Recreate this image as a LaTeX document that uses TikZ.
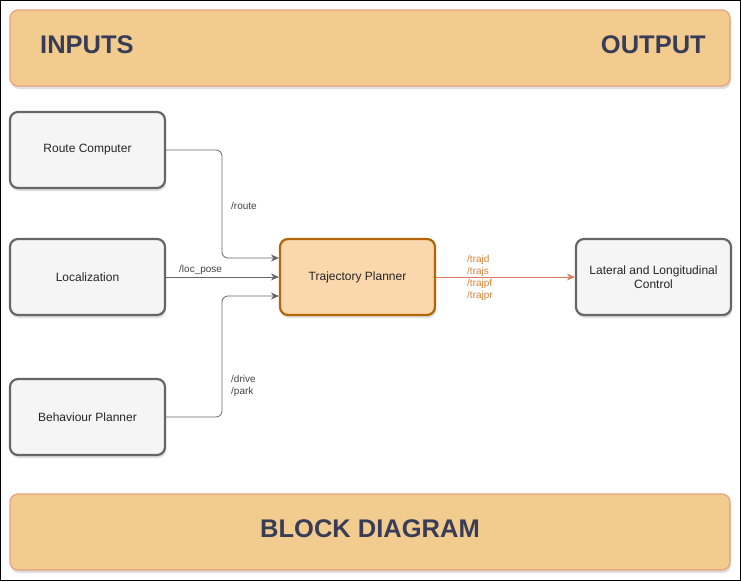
\documentclass[tikz,border=0pt]{standalone}
\usepackage{fontspec}
\setmainfont{Liberation Sans}
\usetikzlibrary{shadows,arrows.meta}
\definecolor{bannerfill}{HTML}{F2CC8F}
\definecolor{bannerdraw}{HTML}{E9A07E}
\definecolor{bannertext}{HTML}{393C56}
\definecolor{boxfill}{HTML}{F5F5F5}
\definecolor{boxdraw}{HTML}{666666}
\definecolor{tpfill}{HTML}{FAD7AC}
\definecolor{tpdraw}{HTML}{B46504}
\definecolor{outedge}{HTML}{E07A5F}
\definecolor{outlabel}{HTML}{D9823B}
\definecolor{edgecol}{HTML}{666666}
\definecolor{labelcol}{HTML}{444444}
\begin{document}
\begin{tikzpicture}[x=1pt,y=-1pt,
  banner/.style={draw=bannerdraw,line width=1.2pt,fill=bannerfill,rounded corners=8pt,
    drop shadow={shadow xshift=1pt,shadow yshift=-3pt,opacity=0.25},
    minimum width=720pt,minimum height=76pt,inner sep=0pt},
  bannertxt/.style={font=\bfseries\fontsize{25.5}{28}\selectfont,text=bannertext,inner sep=0pt},
  blockbox/.style={draw=boxdraw,line width=2.2pt,fill=boxfill,rounded corners=8pt,
    drop shadow={shadow xshift=1pt,shadow yshift=-3pt,opacity=0.25},
    minimum width=155pt,minimum height=76pt,inner sep=2pt,align=center,
    font=\fontsize{12}{14}\selectfont,text=black!85},
  tpbox/.style={blockbox,draw=tpdraw,fill=tpfill},
  conn/.style={draw=edgecol,line width=0.8pt,rounded corners=6pt,-{Stealth[length=8pt,width=7pt]}},
  elabel/.style={font=\fontsize{10}{12}\selectfont,text=labelcol,inner sep=0pt,anchor=west,align=left},
  olabel/.style={font=\fontsize{10}{12}\selectfont,text=outlabel,inner sep=0pt,anchor=west,align=left}
]
\useasboundingbox (0,0) rectangle (741,581);
\fill[white] (0,0) rectangle (741,581);
\draw[black,line width=1pt] (0.5,0.5) rectangle (740.5,580.5);

\node[banner] (top) at (370,48) {};
\node[bannertxt,anchor=west] (inputs) at (40,45) {INPUTS};
\node[bannertxt,anchor=east] (output) at (706,45) {OUTPUT};

\node[banner] (bottom) at (370,532) {};
\node[bannertxt] (bd) at (370,529) {BLOCK DIAGRAM};

\node[blockbox] (rc) at (87.5,150) {Route Computer};
\node[blockbox] (loc) at (87.5,277) {Localization};
\node[blockbox] (bp) at (87.5,417) {Behaviour Planner};
\node[tpbox] (tp) at (357.5,277) {Trajectory Planner};
\node[blockbox] (llc) at (653.5,277) {Lateral and Longitudinal\\Control};

\coordinate (rcin) at ([yshift=19pt]tp.west);
\coordinate (bpin) at ([yshift=-19pt]tp.west);
\draw[conn] (rc.east) -| (222,200) |- (rcin);
\draw[conn] (loc.east) -- (tp.west);
\draw[conn] (bp.east) -| (222,350) |- (bpin);
\draw[draw=outedge,line width=0.8pt,-{Stealth[length=8pt,width=7pt]}] (tp.east) -- (llc.west);

\node[elabel] (lroute) at (231,206) {/route};
\node[elabel] (lloc) at (179,270) {/loc\_pose};
\node[elabel,anchor=north west] (ldrive) at (231,375) {/drive\\/park};
\node[olabel,anchor=north west] (ltraj) at (467,255) {/trajd\\/trajs\\/trajpf\\/trajpr};
\end{tikzpicture}
\end{document}
